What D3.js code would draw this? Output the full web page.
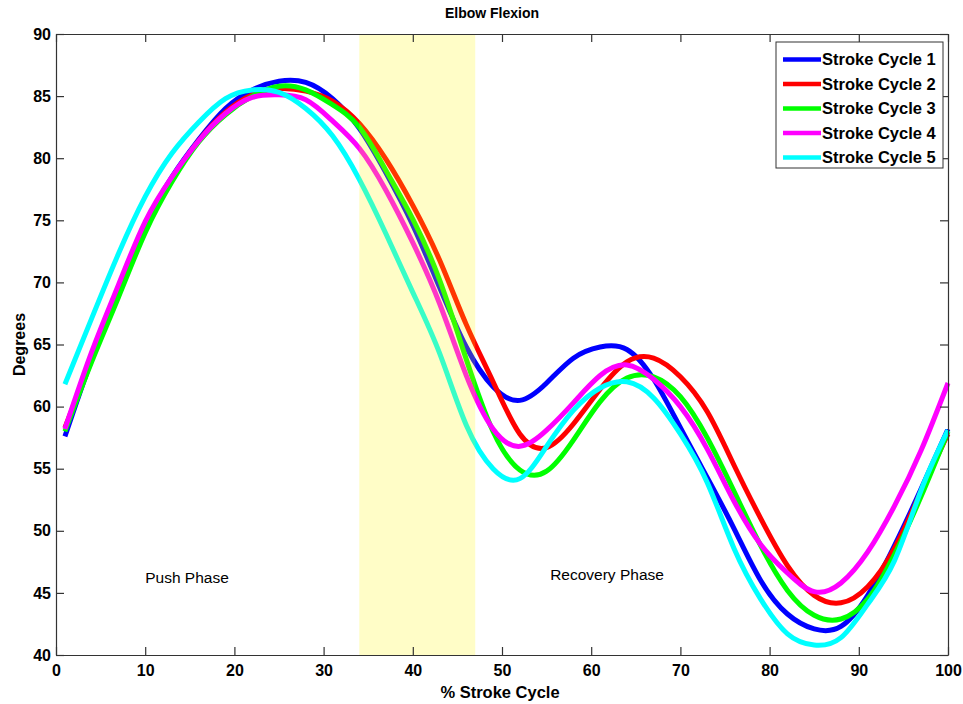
<!DOCTYPE html>
<html>
<head>
<meta charset="utf-8">
<script src="https://cdn.jsdelivr.net/npm/d3@7"></script>
<style>
  body { margin: 0; background: #fff; }
  svg { display: block; font-family: "Liberation Sans", Arial, sans-serif; }
  .axis path, .axis line { stroke: #333; stroke-width: 1.2; }
  .axis text { font-size: 16px; font-weight: bold; fill: #000; }
</style>
</head>
<body>
<div id="chart"></div>
<script>
// sample positions (% stroke cycle) shared by all series
var pct = [1, 4, 7, 10, 13, 16, 19, 22, 25, 28, 31, 34, 37, 40, 43, 46, 49, 52, 55, 58, 61, 64, 67, 70, 73, 76, 79, 82, 85, 88, 91, 94, 97, 100];

var cycle1 = [57.6, 63.8, 69.4, 74.6, 78.5, 81.5, 84.0, 85.5, 86.2, 86.1, 84.8, 82.4, 78.8, 74.6, 69.6, 64.8, 61.6, 60.5, 61.9, 63.9, 64.8, 64.6, 62.2, 58.3, 54.3, 50.2, 46.0, 43.3, 42.1, 42.3, 44.8, 48.8, 53.4, 58.2];
var cycle2 = [58.3, 63.8, 69.2, 74.3, 78.3, 81.4, 83.7, 85.1, 85.6, 85.4, 84.6, 82.8, 79.9, 76.2, 71.8, 66.6, 62.0, 57.8, 56.7, 58.6, 61.4, 63.6, 63.9, 62.4, 59.6, 55.3, 51.0, 47.2, 44.8, 44.2, 45.5, 48.6, 53.2, 57.8];
var cycle3 = [58.0, 63.6, 68.8, 74.0, 78.1, 81.3, 83.5, 85.0, 85.8, 85.5, 84.3, 82.5, 79.0, 75.1, 70.2, 63.8, 58.0, 54.9, 54.8, 57.3, 60.4, 62.3, 62.4, 60.8, 57.5, 53.2, 48.8, 45.2, 43.2, 42.9, 44.5, 48.1, 52.8, 58.0];
var cycle4 = [58.2, 64.4, 69.8, 74.9, 78.5, 81.4, 83.6, 84.9, 85.1, 84.7, 83.0, 80.8, 77.4, 73.2, 68.3, 62.5, 58.2, 56.8, 58.1, 60.3, 62.5, 63.35, 62.2, 60.0, 56.6, 52.4, 48.9, 46.6, 45.1, 45.8, 48.3, 52.0, 56.5, 61.9];
var cycle5 = [61.8, 67.1, 72.3, 76.9, 80.4, 82.9, 84.8, 85.5, 85.3, 84.0, 81.8, 78.3, 73.9, 69.2, 64.3, 58.5, 55.0, 54.2, 56.8, 59.7, 61.5, 62.0, 60.7, 57.8, 53.9, 48.6, 44.5, 41.7, 40.8, 41.4, 44.1, 47.6, 53.3, 58.1];

var names = ["Stroke Cycle 1", "Stroke Cycle 2", "Stroke Cycle 3", "Stroke Cycle 4", "Stroke Cycle 5"];
var colors = ["#0000ff", "#ff0000", "#00ff00", "#ff00ff", "#00ffff"];
var xTicks = [0, 10, 20, 30, 40, 50, 60, 70, 80, 90, 100];
var yTicks = [40, 45, 50, 55, 60, 65, 70, 75, 80, 85, 90];
var transition = [34, 47];   // shaded band between push and recovery

var series = [cycle1, cycle2, cycle3, cycle4, cycle5].map(function (vals, i) {
  return {
    name: names[i],
    color: colors[i],
    points: pct.map(function (p, j) { return [p, vals[j]]; })
  };
});

var W = 963, H = 704;
var margin = { top: 34, right: 15, bottom: 49, left: 56 };
var width = W - margin.left - margin.right,
    height = H - margin.top - margin.bottom;

var svg = d3.select("#chart").append("svg")
  .attr("width", W)
  .attr("height", H);

var g = svg.append("g")
  .attr("transform", "translate(" + margin.left + "," + margin.top + ")");

var x = d3.scaleLinear().domain([0, 100]).range([0, width]);
var y = d3.scaleLinear().domain([40, 90]).range([height, 0]);

var line = d3.line()
  .x(function (d) { return x(d[0]); })
  .y(function (d) { return y(d[1]); })
  .curve(d3.curveNatural);

g.selectAll(".cycle")
  .data(series)
  .enter().append("path")
  .attr("class", "cycle")
  .attr("fill", "none")
  .attr("stroke", function (d) { return d.color; })
  .attr("stroke-width", 5)
  .attr("stroke-linejoin", "round")
  .attr("d", function (d) { return line(d.points); });

// translucent patch drawn over the lines
g.append("rect")
  .attr("x", x(transition[0]))
  .attr("y", 0)
  .attr("width", x(transition[1]) - x(transition[0]))
  .attr("height", height)
  .attr("fill", "rgb(255,245,0)")
  .attr("fill-opacity", 0.22);

// axes, ticks pointing inward on all four sides
g.append("g")
  .attr("class", "axis")
  .attr("transform", "translate(0," + height + ")")
  .call(d3.axisBottom(x).tickValues(xTicks).tickSizeInner(-8).tickSizeOuter(0).tickPadding(10))
  .selectAll("text").attr("dy", "0.71em");

g.append("g")
  .attr("class", "axis")
  .call(d3.axisTop(x).tickValues(xTicks).tickSizeInner(-8).tickSizeOuter(0).tickFormat(""));

g.append("g")
  .attr("class", "axis")
  .call(d3.axisLeft(y).tickValues(yTicks).tickSizeInner(-8).tickSizeOuter(0).tickPadding(5));

g.append("g")
  .attr("class", "axis")
  .attr("transform", "translate(" + width + ",0)")
  .call(d3.axisRight(y).tickValues(yTicks).tickSizeInner(-8).tickSizeOuter(0).tickFormat(""));

// titles
svg.append("text")
  .attr("x", 492).attr("y", 18)
  .attr("text-anchor", "middle")
  .style("font-size", "14px").style("font-weight", "bold")
  .text("Elbow Flexion");

svg.append("text")
  .attr("x", 500).attr("y", 698)
  .attr("text-anchor", "middle")
  .style("font-size", "16.5px").style("font-weight", "bold")
  .text("% Stroke Cycle");

svg.append("text")
  .attr("transform", "translate(25," + (margin.top + height / 2) + ") rotate(-90)")
  .attr("text-anchor", "middle")
  .style("font-size", "16px").style("font-weight", "bold")
  .text("Degrees");

// phase annotations
g.append("text")
  .attr("x", x(10)).attr("y", y(45.8))
  .style("font-size", "15.5px")
  .text("Push Phase");

g.append("text")
  .attr("x", x(55.4)).attr("y", y(46.0))
  .style("font-size", "15.5px")
  .text("Recovery Phase");

// legend
var legend = svg.append("g").attr("transform", "translate(776,42)");
legend.append("rect")
  .attr("width", 167).attr("height", 126)
  .attr("fill", "#fff").attr("stroke", "#333").attr("stroke-width", 1);

var item = legend.selectAll(".item")
  .data(series)
  .enter().append("g")
  .attr("class", "item")
  .attr("transform", function (d, i) { return "translate(0," + (17.5 + i * 24.5) + ")"; });

item.append("line")
  .attr("x1", 7).attr("x2", 45)
  .attr("stroke", function (d) { return d.color; })
  .attr("stroke-width", 4.5);

item.append("text")
  .attr("x", 46).attr("dy", "0.36em")
  .style("font-size", "16.5px").style("font-weight", "bold")
  .text(function (d) { return d.name; });
</script>
</body>
</html>
